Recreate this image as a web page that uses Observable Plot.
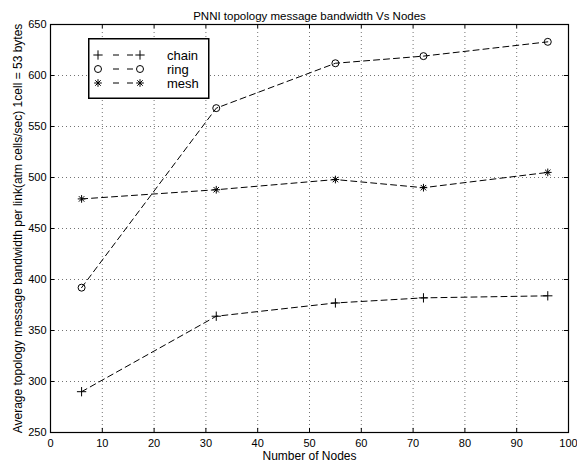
<!DOCTYPE html>
<html>
<head>
<meta charset="utf-8">
<script src="https://cdn.jsdelivr.net/npm/d3@7"></script>
<script src="https://cdn.jsdelivr.net/npm/@observablehq/plot@0.6"></script>
<style>
  html, body { margin: 0; padding: 0; background: #fff; }
  #wrap { position: relative; width: 577px; height: 469px; }
  #legend { position: absolute; left: 88px; top: 38px; }
</style>
</head>
<body>
<div id="wrap"></div>
<script>
const nodes = [6, 32, 55, 72, 96];
const chain = [290, 364, 377, 382, 384];
const ring = [392, 568, 612, 619, 633];
const mesh = [479, 488, 498, 490, 505];
const seriesNames = ["chain", "ring", "mesh"];
const xTicks = [0, 10, 20, 30, 40, 50, 60, 70, 80, 90, 100];
const yTicks = [250, 300, 350, 400, 450, 500, 550, 600, 650];
const title = "PNNI topology message bandwidth Vs Nodes";
const xLabel = "Number of Nodes";
const yLabel = "Average topology message bandwidth per link(atm cells/sec) 1cell = 53 bytes";

const seriesValues = {chain, ring, mesh};
const rows = seriesNames.flatMap(s => nodes.map((n, i) => ({series: s, x: n, y: seriesValues[s][i]})));
const only = s => rows.filter(d => d.series === s);
const xInner = xTicks.slice(1, -1);
const yInner = yTicks.slice(1, -1);

const font = "'Liberation Sans', Arial, Helvetica, sans-serif";

// marker definitions: each series drawn with one or more symbols
const markerDefs = {
  chain: [{symbol: "plus", r: 3.1}],
  ring: [{symbol: "circle", r: 3.5}],
  mesh: [{symbol: "plus", r: 2.6}, {symbol: "times", r: 2.6}]
};

const markerMarks = seriesNames.flatMap(s => markerDefs[s].map(m =>
  Plot.dot(only(s), {x: "x", y: "y", symbol: m.symbol, r: m.r, stroke: "black", fill: "none", strokeWidth: 1})
));

const chart = Plot.plot({
  width: 577,
  height: 469,
  marginTop: 24,
  marginLeft: 50,
  marginRight: 9,
  marginBottom: 37,
  style: {fontFamily: font, fontSize: "11px", background: "white", color: "black"},
  x: {domain: [0, 100]},
  y: {domain: [250, 650]},
  marks: [
    Plot.gridX(xInner, {stroke: "black", strokeOpacity: 0.55, strokeDasharray: "1,3"}),
    Plot.gridY(yInner, {stroke: "black", strokeOpacity: 0.55, strokeDasharray: "1,3"}),
    Plot.ruleX(xInner, {y1: 250, y2: 254, stroke: "black"}),
    Plot.ruleX(xInner, {y1: 646, y2: 650, stroke: "black"}),
    Plot.ruleY(yInner, {x1: 0, x2: 0.8, stroke: "black"}),
    Plot.ruleY(yInner, {x1: 99.2, x2: 100, stroke: "black"}),
    Plot.line(rows, {x: "x", y: "y", z: "series", stroke: "black", strokeWidth: 1, strokeDasharray: "6,4"}),
    ...markerMarks,
    Plot.frame({stroke: "black", strokeWidth: 1.2}),
    Plot.axisX(xTicks, {tickSize: 0, tickPadding: 7, label: null, fontSize: 11}),
    Plot.axisY(yTicks, {tickSize: 0, tickPadding: 4, label: null, fontSize: 11}),
    Plot.text([title], {frameAnchor: "top", dy: -13, fontSize: 11.5}),
    Plot.text([xLabel], {frameAnchor: "bottom", dy: 27, fontSize: 12}),
    Plot.text([yLabel], {frameAnchor: "left", textAnchor: "middle", dx: -32, rotate: -90, fontSize: 12})
  ]
});

const wrap = document.getElementById("wrap");
wrap.appendChild(chart);

// Legend
const ns = "http://www.w3.org/2000/svg";
const lg = document.createElementNS(ns, "svg");
lg.setAttribute("id", "legend");
lg.setAttribute("width", 122);
lg.setAttribute("height", 62);
const box = document.createElementNS(ns, "rect");
box.setAttribute("x", 0.75); box.setAttribute("y", 0.75);
box.setAttribute("width", 120); box.setAttribute("height", 59.5);
box.setAttribute("fill", "white"); box.setAttribute("stroke", "black"); box.setAttribute("stroke-width", 1.5);
lg.appendChild(box);
const symMap = {plus: d3.symbolPlus, circle: d3.symbolCircle, times: d3.symbolTimes};
seriesNames.forEach((name, i) => {
  const yy = 17 + i * 14;
  const ln = document.createElementNS(ns, "line");
  ln.setAttribute("x1", 25); ln.setAttribute("x2", 45);
  ln.setAttribute("y1", yy); ln.setAttribute("y2", yy);
  ln.setAttribute("stroke", "black"); ln.setAttribute("stroke-dasharray", "6,8");
  lg.appendChild(ln);
  [10, 52].forEach(xx => {
    markerDefs[name].forEach(m => {
      const p = document.createElementNS(ns, "path");
      p.setAttribute("d", d3.symbol(symMap[m.symbol], Math.PI * m.r * m.r)());
      p.setAttribute("transform", `translate(${xx},${yy})`);
      p.setAttribute("fill", "none"); p.setAttribute("stroke", "black");
      lg.appendChild(p);
    });
  });
  const t = document.createElementNS(ns, "text");
  t.setAttribute("x", 79); t.setAttribute("y", yy);
  t.setAttribute("dy", "0.35em");
  t.setAttribute("font-family", font);
  t.setAttribute("font-size", 13);
  t.textContent = name;
  lg.appendChild(t);
});
wrap.appendChild(lg);
</script>
</body>
</html>
